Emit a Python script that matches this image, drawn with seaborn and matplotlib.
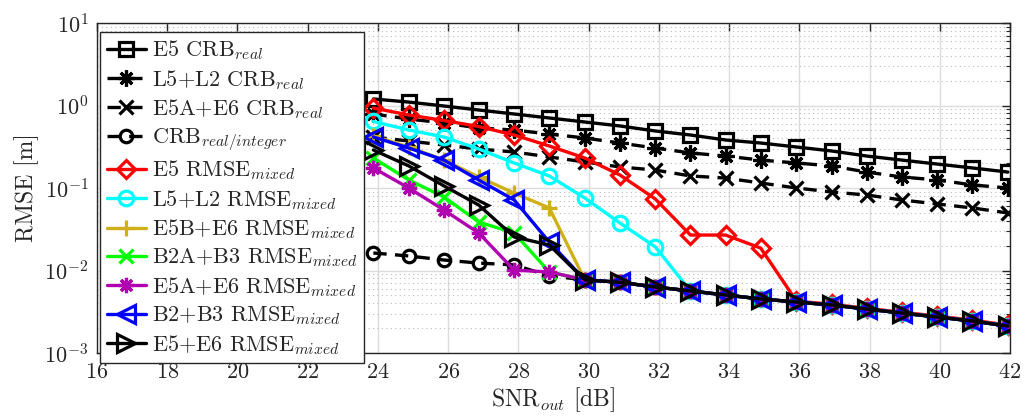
import matplotlib
matplotlib.use("Agg")
import matplotlib.pyplot as plt
import seaborn as sns
from matplotlib.ticker import LogLocator, NullFormatter, FixedLocator

# ---------------- data ----------------
snr = [23.87, 24.88, 25.88, 26.87, 27.88, 28.88, 29.89, 30.89, 31.90, 32.90,
       33.90, 34.90, 35.92, 36.92, 37.92, 38.92, 39.93, 40.93, 41.94]

e5_crb = [1.20, 1.10, 0.986, 0.882, 0.789, 0.706, 0.631, 0.565, 0.491, 0.439,
          0.382, 0.351, 0.314, 0.281, 0.244, 0.218, 0.195, 0.175, 0.156]
l5l2_crb = [0.789, 0.686, 0.614, 0.534, 0.504, 0.451, 0.404, 0.351, 0.305, 0.266,
            0.244, 0.218, 0.201, 0.185, 0.156, 0.136, 0.125, 0.109, 0.100]
e5ae6_crb = [0.415, 0.371, 0.332, 0.297, 0.273, 0.238, 0.207, 0.180, 0.165, 0.140,
             0.132, 0.115, 0.100, 0.0895, 0.0822, 0.0716, 0.064, 0.0573, 0.0498]
crb_int = [0.0163, 0.0150, 0.0134, 0.0123, 0.0117, 0.0086, 0.0077, 0.0072, 0.00631, 0.00565,
           0.00505, 0.00452, 0.00415, 0.00382, 0.00341, 0.00305, 0.00273, 0.00244, 0.00212]
e5_rmse = [0.932, 0.767, 0.658, 0.556, 0.439, 0.323, 0.231, 0.144, 0.0736, 0.0269,
           0.0269, 0.0187, 0.00425, 0.00390, 0.00348, 0.00312, 0.00280, 0.00250, 0.00218]
l5l2_rmse = [0.640, 0.505, 0.415, 0.297, 0.201, 0.140, 0.0757, 0.0377, 0.0193, 0.00565,
             0.00505, 0.00452, 0.00415, 0.00382, 0.00341, 0.00305, 0.00273, 0.00244, 0.00212]
e5be6_rmse = [0.427, 0.314, 0.218, 0.136, 0.0869, 0.0573, 0.0077, 0.0072, 0.00631, 0.00565,
              0.00505, 0.00452, 0.00415, 0.00382, 0.00341, 0.00305, 0.00273, 0.00244, 0.00212]
b2ab3_rmse = [0.231, 0.125, 0.0778, 0.0387, 0.0285, 0.0096, 0.0077, 0.0072, 0.00631, 0.00565,
              0.00505, 0.00452, 0.00415, 0.00382, 0.00341, 0.00305, 0.00273, 0.00244, 0.00212]
e5ae6_rmse = [0.175, 0.100, 0.0541, 0.0285, 0.0101, 0.0096, 0.0077, 0.0072, 0.00631, 0.00565,
              0.00505, 0.00452, 0.00415, 0.00382, 0.00341, 0.00305, 0.00273, 0.00244, 0.00212]
b2b3_rmse = [0.415, 0.305, 0.218, 0.125, 0.0716, 0.0221, 0.0077, 0.0072, 0.00631, 0.00565,
             0.00505, 0.00452, 0.00415, 0.00382, 0.00341, 0.00305, 0.00273, 0.00244, 0.00212]
e5e6_rmse = [0.289, 0.185, 0.106, 0.0622, 0.0255, 0.0204, 0.0077, 0.0072, 0.00631, 0.00565,
             0.00505, 0.00452, 0.00415, 0.00382, 0.00341, 0.00305, 0.00273, 0.00244, 0.00212]

labels = [r"E5 CRB$_{real}$", r"L5+L2 CRB$_{real}$", r"E5A+E6 CRB$_{real}$",
          r"CRB$_{real/integer}$", r"E5 RMSE$_{mixed}$", r"L5+L2 RMSE$_{mixed}$",
          r"E5B+E6 RMSE$_{mixed}$", r"B2A+B3 RMSE$_{mixed}$", r"E5A+E6 RMSE$_{mixed}$",
          r"B2+B3 RMSE$_{mixed}$", r"E5+E6 RMSE$_{mixed}$"]
series = [e5_crb, l5l2_crb, e5ae6_crb, crb_int, e5_rmse, l5l2_rmse,
          e5be6_rmse, b2ab3_rmse, e5ae6_rmse, b2b3_rmse, e5e6_rmse]
x_ticks = [16, 18, 20, 22, 24, 26, 28, 30, 32, 34, 36, 38, 40, 42]

# ---------------- styles ----------------
colors = ["black", "black", "black", "black", "#FF0000", "#00FFFF",
          "#D0B018", "#00FF00", "#B000B0", "#0000FF", "black"]
markers = ["s", (8, 2, 0), "x", "o", "D", "o", "+", "x", (8, 2, 0), "<", ">"]
msizes = [10.5, 11.5, 10, 9, 9, 10.5, 12, 10, 11, 12.5, 12.5]
dashed = [False, True, True, True, False, False, False, False, False, False, False]

sns.set_style("white")
plt.rcParams["font.family"] = "serif"
plt.rcParams["font.serif"] = ["cmr10", "DejaVu Serif"]
plt.rcParams["mathtext.fontset"] = "cm"
plt.rcParams["axes.formatter.use_mathtext"] = True

fig = plt.figure(figsize=(10.24, 4.18), dpi=100)
ax = fig.add_axes([97 / 1024, 1 - 353 / 418, (1010 - 97) / 1024, (353 - 23) / 418])

for vals, lab, c, m, ms, d in zip(series, labels, colors, markers, msizes, dashed):
    sns.lineplot(x=snr, y=vals, ax=ax, color=c, marker=m, markersize=ms,
                 markeredgewidth=2.3, markerfacecolor="none", markeredgecolor=c,
                 linewidth=2.4, label=lab, sort=False, estimator=None)
    if d:
        ax.lines[-1].set_linestyle((0, (4, 2.5)))

ax.set_yscale("log")
ax.set_xlim(16, 42)
ax.set_ylim(1e-3, 10)
ax.xaxis.set_major_locator(FixedLocator(x_ticks))
ax.yaxis.set_major_locator(LogLocator(base=10, numticks=10))
ax.yaxis.set_minor_locator(LogLocator(base=10, subs=range(2, 10), numticks=100))
ax.yaxis.set_minor_formatter(NullFormatter())

ax.grid(True, which="major", color="#DCDCDC", linewidth=1.0, linestyle="-")
ax.grid(True, which="minor", axis="y", color="#BBBBBB", linewidth=0.8, linestyle=(0, (1, 3)))
ax.set_axisbelow(True)

for s in ax.spines.values():
    s.set_visible(True)
    s.set_color("#262626")
    s.set_linewidth(1.0)
ax.tick_params(which="both", direction="in", top=True, right=True, colors="#262626",
               labelsize=16, labelcolor="#262626")
ax.tick_params(which="major", length=6, width=1)
ax.tick_params(which="minor", length=3, width=0.8)
ax.tick_params(axis="x", which="major", pad=7)
ax.tick_params(axis="y", which="major", pad=6)

ax.set_xlabel(r"SNR$_{out}$ [dB]", fontsize=17, color="#262626", labelpad=2)
ax.set_ylabel("RMSE [m]", fontsize=17, color="#262626", labelpad=4)

leg = ax.legend(loc="upper left", bbox_to_anchor=(0.0033, 0.973), borderaxespad=0,
                fontsize=16, frameon=True, fancybox=False, edgecolor="#262626",
                framealpha=1, handlelength=1.75, handletextpad=0.3, labelspacing=0.25,
                borderpad=0.3)
leg.get_frame().set_linewidth(1.0)

fig.savefig("out.png", dpi=100)
